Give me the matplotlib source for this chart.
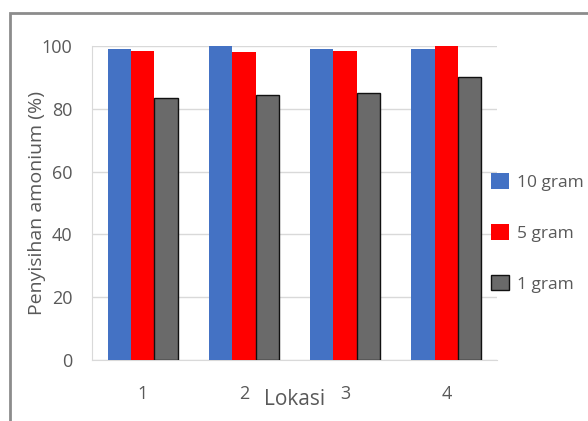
import numpy as np
import matplotlib.pyplot as plt
from matplotlib.patches import Rectangle

lokasi = ["1", "2", "3", "4"]
gram10 = [99, 100, 99, 99]
gram5 = [98.3, 98, 98.3, 100]
gram1 = [83.5, 84.3, 85, 90]
labels = ["10 gram", "5 gram", "1 gram"]
colors = ["#4472C4", "#FF0000", "#6A6A6A"]

plt.rcParams['font.family'] = ['Open Sans', 'DejaVu Sans']
txt = "#595959"

fig = plt.figure(figsize=(5.88, 4.21), dpi=100)
ax = fig.add_axes([92/588, 1-360/421, (497-92)/588, (360-46)/421])

x = np.arange(len(lokasi))
w = 0.23
for i, (vals, lab, c) in enumerate(zip([gram10, gram5, gram1], labels, colors)):
    ec = "#111111" if i == 2 else c
    ax.bar(x + (i-1)*w, vals, width=w, color=c, label=lab,
           edgecolor=ec, linewidth=1 if i == 2 else 0, zorder=3)

ax.set_xlim(-0.5, 3.5)
ax.set_ylim(0, 100)
ax.set_yticks(range(0, 101, 20))
ax.set_xticks(x)
ax.set_xticklabels(lokasi)
ax.grid(axis='y', color="#D9D9D9", linewidth=1, zorder=0)
for s in ["top", "right"]:
    ax.spines[s].set_visible(False)
for s in ["left", "bottom"]:
    ax.spines[s].set_color("#D9D9D9")
ax.tick_params(length=0, labelsize=13, colors=txt)
ax.tick_params(axis='y', pad=14)
ax.tick_params(axis='x', pad=18)
ax.set_ylabel("Penyisihan amonium (%)", fontsize=14, color=txt)
ax.yaxis.set_label_coords((46-92)/405, 0.5)
ax.set_xlabel("Lokasi", fontsize=15, color=txt, labelpad=-10)

fig.legend(loc="center left", bbox_to_anchor=(0.815, 1-233/421), frameon=False,
           fontsize=12.5, labelcolor=txt, handlelength=1.0, handleheight=1.0,
           handletextpad=0.5, labelspacing=1.9, borderaxespad=0.3)

fig.patches.append(Rectangle((10/588, -0.1), 1.2, 1-13/421+0.1, transform=fig.transFigure,
                             fill=False, edgecolor="#8C8C8C", linewidth=2))

fig.savefig("out.png", dpi=100)
